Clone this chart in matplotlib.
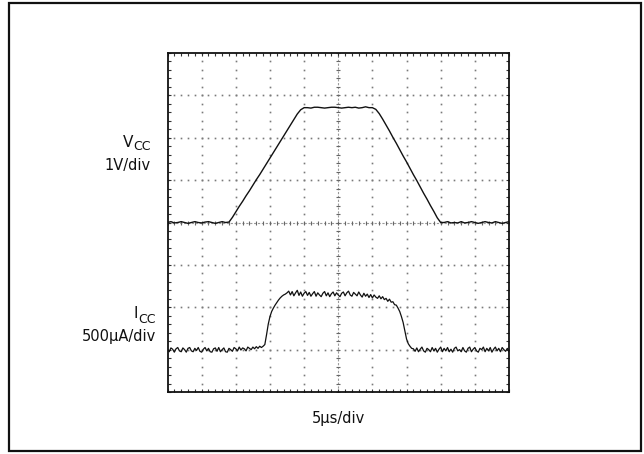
import numpy as np
import matplotlib
matplotlib.use("Agg")
import matplotlib.pyplot as plt
from matplotlib.patches import Rectangle

# ---------------- data (in screen divisions, 10 x 8 grid) ----------------
vcc_step = 0.1   # div per sample
vcc = [4.00, 4.02, 3.99, 4.00, 4.02, 4.00, 3.98, 4.00, 4.02, 4.00,
       3.99, 4.01, 4.02, 4.00, 3.98, 4.00, 4.02, 4.00,
       4.01, 4.12, 4.25, 4.38, 4.50, 4.63, 4.75, 4.88, 5.01, 5.13,
       5.26, 5.39, 5.52, 5.65, 5.78, 5.91, 6.04, 6.17, 6.30, 6.43,
       6.56, 6.66, 6.71,
       6.71, 6.70, 6.72, 6.72, 6.71, 6.70, 6.71, 6.72, 6.72, 6.71,
       6.70, 6.71, 6.72, 6.71, 6.72, 6.70, 6.71, 6.73, 6.71, 6.71,
       6.67, 6.57, 6.44, 6.30, 6.16, 6.01, 5.87, 5.72, 5.57, 5.43,
       5.28, 5.13, 4.99, 4.84, 4.69, 4.55, 4.40, 4.26, 4.11, 4.00,
       4.00, 4.02, 3.99, 4.00, 3.99, 4.02, 3.99, 4.00, 4.02, 4.00,
       3.98, 4.00, 4.02, 4.00, 3.99, 4.02, 4.00, 3.98, 4.00, 4.02]

icc_step = 0.05  # div per sample
icc = [1.00, 0.95, 1.04, 1.01, 0.94, 1.02, 1.05, 0.97, 0.95, 1.04,
       1.00, 0.94, 1.03, 1.05, 0.97, 0.95, 1.03, 0.98, 1.05, 0.96,
       0.94, 1.01, 1.05, 0.97, 1.03, 0.95, 0.94, 1.02, 1.04, 0.96,
       1.05, 0.95, 1.00, 1.04, 0.95, 0.94, 1.03, 1.00, 0.96, 1.05,
       1.02, 0.97, 1.06, 0.99, 1.04, 1.02, 0.97, 1.06, 1.03, 1.00,
       1.06, 1.02, 1.07, 1.03, 1.08, 1.05, 1.08,
       1.12, 1.35, 1.60, 1.78, 1.90, 1.98, 2.05, 2.11, 2.17, 2.22,
       2.26, 2.29, 2.31, 2.34,
       2.38, 2.29, 2.37, 2.27, 2.34, 2.40, 2.28, 2.36, 2.26, 2.33,
       2.37, 2.28, 2.35, 2.26, 2.32, 2.37, 2.26, 2.34, 2.29, 2.25,
       2.33, 2.37, 2.27, 2.34, 2.25, 2.32, 2.36, 2.27, 2.34, 2.29,
       2.25, 2.33, 2.36, 2.27, 2.34, 2.38, 2.29, 2.26, 2.35, 2.31,
       2.27, 2.36, 2.29, 2.24, 2.33, 2.26, 2.31, 2.23, 2.30, 2.22,
       2.29, 2.24, 2.21, 2.27,
       2.20, 2.25, 2.18, 2.21, 2.14, 2.19, 2.12, 2.13, 2.06, 2.05,
       1.98, 1.90, 1.78, 1.64, 1.44, 1.25, 1.14, 1.08, 1.03,
       1.02, 0.96, 1.04, 0.95, 1.01, 1.06, 0.97, 0.94, 1.03, 1.00,
       0.95, 1.05, 0.97, 1.03, 0.94, 1.01, 1.06, 0.95, 1.03, 0.97,
       1.05, 0.95, 1.01, 0.94, 1.03, 1.06, 0.97, 1.00, 0.95, 1.05,
       0.97, 0.94, 1.03, 1.06, 0.95, 1.01, 1.05, 0.97, 0.94, 1.03,
       1.00, 1.06, 0.95, 1.03, 0.97, 1.05, 0.94, 1.01, 1.06, 0.97,
       1.03, 0.95, 1.05, 1.00, 0.96, 1.03, 0.95]

x_divs = 10
y_divs = 8
minor_per_div = 5

ch1_label = ("V", "CC", "1V/div")
ch2_label = ("I", "CC", "500\u00b5A/div")
time_label = "5\u00b5s/div"

# ---------------- figure ----------------
W, H = 644, 454
fig = plt.figure(figsize=(W / 100, H / 100), dpi=100)
plt.rcParams['font.family'] = ['DejaVu Sans']

def fx(x):
    return x / W

def fy(y):
    return 1 - y / H

# outer frame
fig.patches.append(Rectangle((fx(9), fy(451)), fx(641) - fx(9), fy(3) - fy(451),
                             transform=fig.transFigure, fill=False,
                             edgecolor='#111111', linewidth=1.6))

ax = fig.add_axes([fx(167.5), fy(392), (509 - 167.5) / W, (392 - 53) / H])
ax.set_xlim(0, x_divs)
ax.set_ylim(0, y_divs)

# dotted graticule
minor_x = np.arange(0, x_divs * minor_per_div + 1) / minor_per_div
minor_y = np.arange(0, y_divs * minor_per_div + 1) / minor_per_div
grid_col = '#7a7a7a'
for gy in range(1, y_divs):
    if gy == y_divs // 2:
        continue
    ax.plot(minor_x, np.full_like(minor_x, gy), ls='none', marker='s',
            ms=1.2, mew=0, color=grid_col, zorder=1)
for gx in range(1, x_divs):
    if gx == x_divs // 2:
        continue
    ax.plot(np.full_like(minor_y, gx), minor_y, ls='none', marker='s',
            ms=1.2, mew=0, color=grid_col, zorder=1)

# centre cross with tick marks
cy = y_divs / 2
cx = x_divs / 2
ax.plot([0, x_divs], [cy, cy], color='#9a9a9a', lw=0.8, ls=(0, (2, 1.5)), zorder=1)
ax.plot([cx, cx], [0, y_divs], color='#9a9a9a', lw=0.8, ls=(0, (2, 1.5)), zorder=1)
ax.plot(minor_x, np.full_like(minor_x, cy), ls='none', marker='|', ms=3.5,
        mew=0.8, color='#666666', zorder=1)
ax.plot(np.full_like(minor_y, cx), minor_y, ls='none', marker='_', ms=3.5,
        mew=0.8, color='#666666', zorder=1)

# traces
t_v = np.arange(len(vcc)) * vcc_step
t_i = np.arange(len(icc)) * icc_step
ax.plot(t_v, vcc, color='#111111', lw=1.0, zorder=3)
ax.plot(t_i, icc, color='#111111', lw=0.9, zorder=3)

# edge ticks
ax.set_xticks(np.arange(0, x_divs + 1))
ax.set_yticks(np.arange(0, y_divs + 1))
ax.set_xticks(minor_x, minor=True)
ax.set_yticks(minor_y, minor=True)
ax.tick_params(which='both', direction='in', top=True, right=True,
               labelbottom=False, labelleft=False, length=2.5, width=0.8,
               color='#333333')
for s in ax.spines.values():
    s.set_linewidth(1.3)
    s.set_color('#111111')

# labels
fs = 10.5
sub_fs = 9
def channel_label(main, sub, scale, right, main_base, sub_base, scale_base):
    t_sub = fig.text(fx(right), fy(sub_base), sub, fontsize=sub_fs,
                     ha='right', va='baseline', color='#111111')
    fig.canvas.draw()
    bb = t_sub.get_window_extent()
    fig.text(bb.x0 / W - 0.5 / W, fy(main_base), main, fontsize=fs + 0.5,
             ha='right', va='baseline', color='#111111')
    fig.text(fx(right), fy(scale_base), scale, fontsize=fs,
             ha='right', va='baseline', color='#111111')

channel_label(*ch1_label, right=151, main_base=147, sub_base=150, scale_base=170)
channel_label(*ch2_label, right=156, main_base=318, sub_base=323, scale_base=341)

fig.text(fx(338), fy(423), time_label, fontsize=fs, ha='center', va='baseline',
         color='#111111')

fig.savefig('out.png', dpi=100)
